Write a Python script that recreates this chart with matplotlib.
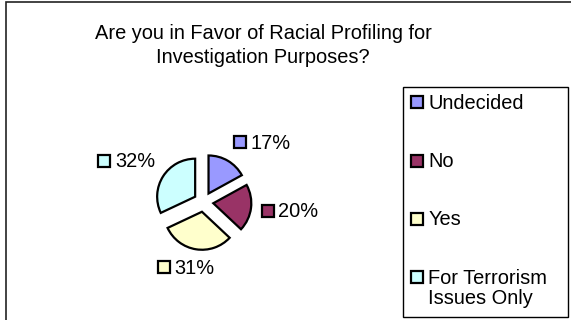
import numpy as np
import matplotlib
matplotlib.use("Agg")
import matplotlib.pyplot as plt
from matplotlib.patches import Rectangle
from matplotlib.offsetbox import (AnchoredOffsetbox, AnnotationBbox,
                                  DrawingArea, HPacker, TextArea, VPacker)

plt.rcParams['font.family'] = ['Liberation Sans', 'DejaVu Sans']

title = "Are you in Favor of Racial Profiling for\nInvestigation Purposes?"
categories = ["Undecided", "No", "Yes", "For Terrorism\nIssues Only"]
shares = [17, 20, 31, 32]
colors = ["#9999FF", "#993366", "#FFFFCC", "#CCFFFF"]

W, H = 571, 320
FS = 14.4
fig = plt.figure(figsize=(W / 100, H / 100), dpi=100)
fig.patch.set_facecolor("white")

# outer chart border (only left and top edges fall inside the image)
fig.patches.append(Rectangle((5.5 / W, -0.2), 2.0, 1.2 - 1.5 / H,
                             transform=fig.transFigure, fill=False,
                             edgecolor="#222222", lw=1.2))

fig.text(263 / W, 1 - 45.5 / H, title, ha="center", va="center",
         fontsize=FS, linespacing=1.3)

# pie axes: one data unit = pie radius (38 px)
cx, cy, R = 203.5, 202, 38
span = 2.4
ax = fig.add_axes([(cx - span * R) / W, (H - cy - span * R) / H,
                   2 * span * R / W, 2 * span * R / H])

explode = 0.26
wedges, _ = ax.pie(shares, colors=colors, startangle=90, counterclock=False,
                   explode=[explode] * len(shares), radius=1.0,
                   wedgeprops=dict(edgecolor="black", linewidth=1.6))
ax.set_xlim(-span, span)
ax.set_ylim(-span, span)
ax.set_aspect("equal")
ax.axis("off")


def key(col, h=13.0):
    # colour key square, sizes in points
    s = 8.6
    da = DrawingArea(10.4, h, 0, 0)
    da.add_artist(Rectangle((0.9, (h - s) / 2 + 0.4), s, s, facecolor=col,
                            edgecolor="black", lw=1.6))
    return da


# value labels with a colour key, Excel style
for w, val, col in zip(wedges, shares, colors):
    mid = np.deg2rad((w.theta1 + w.theta2) / 2)
    ux, uy = np.cos(mid), np.sin(mid)
    r = 1.0 + explode + 0.25
    ta = TextArea(f"{val}%", textprops=dict(fontsize=FS))
    box = HPacker(children=[key(col), ta], align="top", pad=0, sep=2.5)
    bx = 0.5 - 0.5 * np.clip(ux * 2, -1, 1)
    by = 0.5 - 0.5 * np.clip(uy * 2, -1, 1)
    ab = AnnotationBbox(box, (r * ux, r * uy), xycoords="data",
                        box_alignment=(bx, by), frameon=False, pad=0,
                        annotation_clip=False)
    ax.add_artist(ab)

# legend: key square lines up with the first line of each label
rows = []
for cat, col in zip(categories, colors):
    ta = TextArea(cat, textprops=dict(fontsize=FS, linespacing=1.1))
    rows.append(HPacker(children=[key(col), ta], align="top",
                        pad=0, sep=2.6))
legbox = VPacker(children=rows, align="left", pad=0, sep=28.2)
fig.add_artist(AnchoredOffsetbox(loc="upper left", child=legbox, pad=0,
                                 borderpad=0, frameon=False,
                                 bbox_to_anchor=(410 / W, 1 - 94 / H),
                                 bbox_transform=fig.transFigure))
fig.patches.append(Rectangle((402.5 / W, 1 - 316.5 / H), 165 / W, 230 / H,
                             transform=fig.transFigure, fill=False,
                             edgecolor="black", lw=1.0))

fig.savefig("out.png", dpi=100)
